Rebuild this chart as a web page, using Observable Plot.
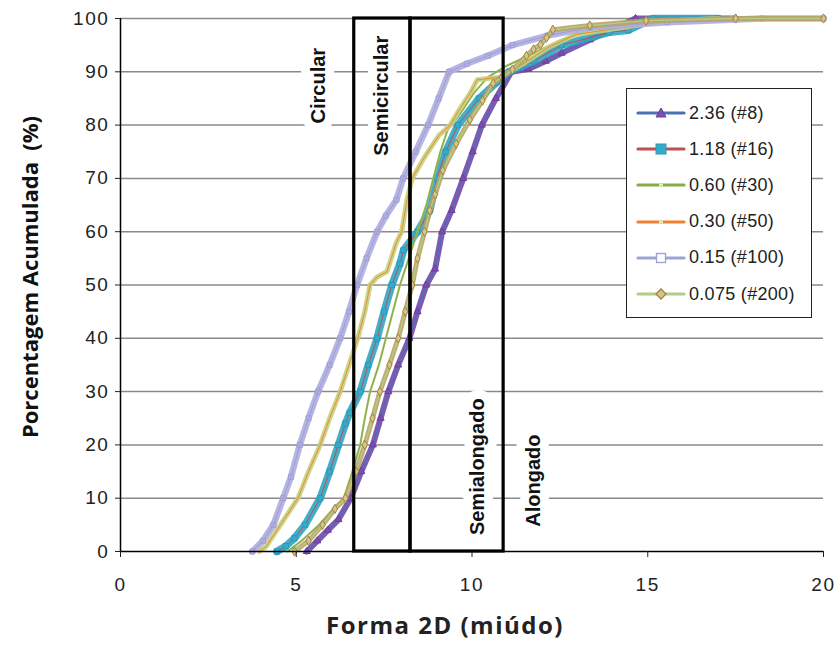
<!DOCTYPE html>
<html>
<head>
<meta charset="utf-8">
<script src="https://cdn.jsdelivr.net/npm/d3@7"></script>
<script src="https://cdn.jsdelivr.net/npm/@observablehq/plot@0.6"></script>
<style>
  html, body { margin: 0; padding: 0; background: #fff; }
  #wrap { position: relative; width: 839px; height: 649px; }
  #legend { position: absolute; left: 626px; top: 88px; width: 186px; height: 230px;
            border: 1.5px solid #222; background: #fff; box-sizing: border-box;
            font-family: "Liberation Sans", Arial, sans-serif; font-size: 18px; color: #222; }
  .row { position: absolute; left: 9px; height: 20px; display: flex; align-items: center; }
  .row span { margin-left: 3px; letter-spacing: 0.3px; }
  svg text { }
</style>
</head>
<body>
<div id="wrap"><div id="legend"></div></div>
<script>
// ---------- data ----------
const seriesNames = ["2.36 (#8)", "1.18 (#16)", "0.60 (#30)", "0.30 (#50)", "0.15 (#100)", "0.075 (#200)"];

const s236Form = [5.3,5.6,5.9,6.2,6.55,6.85,7.18,7.4,7.62,7.9,8.22,8.45,8.7,8.95,9.15,9.42,9.75,10.02,10.28,10.68,11.12,11.6,12.1,12.55,13.35,14.0,14.65,17.5];
const s236Pct  = [0,2,4,6,10,15,20,25,30,35,40,45,50,53,60,64,70,75,80,85,90,90.5,92,93.5,96,98,100,100];

const s118Form = [4.45,4.7,4.95,5.25,5.68,5.95,6.2,6.4,6.52,6.82,7.05,7.3,7.5,7.72,7.95,8.05,8.45,8.8,9.0,9.25,9.6,10.2,10.7,11.05,11.75,12.55,13.9,14.45,15.15,17.0];
const s118Pct  = [0,1,2.5,5,10,15,20,24,26,30,35,40,45,50,54,56.5,60,64,70,75,80,85,88,90,92,95,97.4,97.8,100,100];

const s060Form = [4.75,5.15,5.65,6.05,6.35,6.55,6.82,6.95,7.1,7.35,7.55,7.75,7.95,8.2,8.45,8.7,8.9,9.1,9.3,9.65,10.05,10.45,10.95,11.75,12.55,13.45,14.95,17.0];
const s060Pct  = [0,2,5,8,10,14,20,25,30,35,40,45,50,55,60,65,70,75,79,82,86,89,91,93.5,96,98,99.5,100];

const s030Form = [3.95,4.15,4.55,5.05,5.35,5.68,5.95,6.25,6.5,6.75,6.95,7.1,7.3,7.58,7.85,8.0,8.15,8.3,8.65,9.05,9.38,9.65,9.95,10.15,10.8,11.45,12.15,12.95,13.95,15.45,17.0];
const s030Pct  = [0,1,5,10,15,20,25,30,35,40,45,50,51.5,52.5,58,60,66,70,74,78,80,83,86,88.5,89,91.5,94.5,97,98,99.5,100];

const s015Form = [3.75,4.05,4.35,4.63,4.85,5.1,5.35,5.62,5.95,6.25,6.5,6.73,7.0,7.3,7.55,7.85,8.04,8.4,8.75,9.05,9.35,9.85,10.45,11.15,12.15,13.35,15.55,18.25,20.0];
const s015Pct  = [0,2,5,10,14,20,25,30,35,40,45,50,55,60,63,66,70,75,80,85,90,91.5,93,95,96.8,98.3,99.3,100,100];

const s0075Form = [4.95,5.35,5.75,6.1,6.4,6.7,6.95,7.17,7.38,7.65,7.9,8.1,8.3,8.45,8.65,8.8,8.95,9.17,9.55,9.94,10.3,10.6,10.85,11.15,11.55,11.75,11.95,12.12,12.3,13.35,14.95,17.5,20.0];
const s0075Pct  = [0,2,5,8,10,15,20,25,30,35,40,45,50,55,60,64,67,71.5,76.5,81,84.6,87.8,89,90.4,93,94.2,95.1,96.4,97.9,98.7,99.6,100,100];

const xTicks = [0, 5, 10, 15, 20];
const yTicks = [0, 10, 20, 30, 40, 50, 60, 70, 80, 90, 100];
const yGrid  = [10, 20, 30, 40, 50, 60, 70, 80, 90, 100];

// shape class boundaries (Forma 2D)
const classBounds = [6.65, 8.25, 10.9];
const classLabels = ["Circular", "Semicircular", "Semialongado", "Alongado"];
const classLabelX = [5.63, 7.42, 10.17, 11.75];
const classLabelY = [87.4, 85.5, 15.9, 13.3];

const xTitle = "Forma 2D (miúdo)";
const yTitle = "Porcentagem Acumulada  (%)";

// ---------- build tables ----------
const formArrays = [s236Form, s118Form, s060Form, s030Form, s015Form, s0075Form];
const pctArrays  = [s236Pct, s118Pct, s060Pct, s030Pct, s015Pct, s0075Pct];
const rows = [];
seriesNames.forEach((name, i) => {
  formArrays[i].forEach((f, j) => rows.push({series: name, form: f, pct: pctArrays[i][j]}));
});
const boxes = [
  {x1: classBounds[0], x2: classBounds[1]},
  {x1: classBounds[1], x2: classBounds[2]}
];
const labels = classLabels.map((t, i) => ({text: t, x: classLabelX[i], y: classLabelY[i]}));

// ---------- styles ----------
const styles = {
  "2.36 (#8)":    {band: "#7347a8", bandW: 6,   line: "#4a72b3", lineW: 1.2, sym: "triangle", mFill: "#7a4fae", mStroke: "#6a3f9e", r: 2.6},
  "1.18 (#16)":   {band: "#2ea5c4", bandW: 7.5, line: "#c0504d", lineW: 1,   sym: "square",   mFill: "#36aac8", mStroke: "#2a9ab8", r: 3},
  "0.60 (#30)":   {band: "#a6c46a", bandW: 2.2, line: "#86ad45", lineW: 1.2, sym: null},
  "0.30 (#50)":   {band: "#c4d07c", bandW: 5,   line: "#ee8030", lineW: 0.9, sym: null},
  "0.15 (#100)":  {band: "#b0acdf", bandW: 6.5, line: "#9aa6d8", lineW: 1.2, sym: "square",   mFill: "none", mStroke: "#a29dd6", r: 2.8},
  "0.075 (#200)": {band: "#b9a262", bandW: 5,   line: "#b3cc86", lineW: 1.4, sym: "diamond",  mFill: "#d8c48a", mStroke: "#9c8540", r: 2.8}
};

const seriesMarks = [];
seriesNames.forEach(name => {
  const st = styles[name];
  const d = rows.filter(r => r.series === name);
  seriesMarks.push(Plot.line(d, {x: "form", y: "pct", stroke: st.band, strokeWidth: st.bandW, strokeOpacity: 0.9}));
  seriesMarks.push(Plot.line(d, {x: "form", y: "pct", stroke: st.line, strokeWidth: st.lineW}));
  if (st.sym) {
    seriesMarks.push(Plot.dot(d, {x: "form", y: "pct", symbol: () => st.sym, r: st.r, fill: st.mFill, stroke: st.mStroke, strokeWidth: 1}));
  }
});

const chart = Plot.plot({
  width: 839,
  height: 649,
  marginLeft: 120,
  marginRight: 16,
  marginTop: 18,
  marginBottom: 98,
  x: {domain: [0, 20]},
  y: {domain: [0, 100]},
  style: {fontFamily: "'Liberation Sans', Arial, sans-serif", fontSize: "19px", color: "#222", background: "#fff", overflow: "visible"},
  marks: [
    Plot.ruleY(yGrid, {stroke: "#8a8a8a", strokeWidth: 1.5}),
    ...seriesMarks,
    Plot.text(labels, {x: "x", y: "y", text: "text", rotate: -90, fontSize: 20, fontWeight: "bold",
      fill: "#111", stroke: "white", strokeWidth: 18, textAnchor: "middle", fontFamily: "'Liberation Sans', Arial, sans-serif"}),
    Plot.rect(boxes, {x1: "x1", x2: "x2", y1: () => 0, y2: () => 100, fill: "none", stroke: "#000", strokeWidth: 3.2}),
    Plot.ruleX([0], {stroke: "#000", strokeWidth: 1.5}),
    Plot.ruleY([0], {stroke: "#000", strokeWidth: 1.5}),
    Plot.axisY({ticks: yTicks, tickSize: 5, tickPadding: 6, label: null, fontSize: 19, tickFormat: d => String(d)}),
    Plot.axisX({ticks: xTicks, tickSize: 6, tickPadding: 20, label: null, fontSize: 19, tickFormat: d => String(d)}),
    Plot.text([xTitle], {frameAnchor: "bottom", dy: 82, dx: -27, fontSize: 24, fontWeight: "bold", fill: "#222",
      fontFamily: "'Open Sans', 'Liberation Sans', sans-serif"}),
    Plot.text([yTitle], {frameAnchor: "left", textAnchor: "middle", rotate: -90, dx: -90, dy: -8, fontSize: 22, fontWeight: "bold", fill: "#111",
      fontFamily: "'Open Sans', 'Liberation Sans', sans-serif"})
  ]
});
// widen tick labels slightly like the stretched original
chart.querySelectorAll("g[aria-label='y-axis tick label'] text, g[aria-label='x-axis tick label'] text").forEach(t => t.setAttribute("letter-spacing", "1.6"));
chart.querySelectorAll("text").forEach(t => { if (t.textContent === xTitle) t.setAttribute("letter-spacing", "1.5"); });
document.getElementById("wrap").prepend(chart);

// ---------- legend ----------
const legend = document.getElementById("legend");
seriesNames.forEach((name, i) => {
  const st = styles[name];
  const row = document.createElement("div");
  row.className = "row";
  row.style.top = (14 + i * 36.2) + "px";
  let marker = "";
  const cx = 25, cy = 10;
  if (st.sym === "triangle") marker = `<path d="M${cx},${cy-5} L${cx+5},${cy+4} L${cx-5},${cy+4} Z" fill="${st.mFill}" stroke="${st.mStroke}"/>`;
  else if (st.sym === "square" && st.mFill !== "none") marker = `<rect x="${cx-5}" y="${cy-5}" width="10" height="10" fill="${st.mFill}" stroke="${st.mStroke}"/>`;
  else if (st.sym === "square") marker = `<rect x="${cx-4.5}" y="${cy-4.5}" width="9" height="9" fill="#fff" stroke="${st.mStroke}" stroke-width="1.3"/>`;
  else if (st.sym === "diamond") marker = `<path d="M${cx},${cy-5} L${cx+5},${cy} L${cx},${cy+5} L${cx-5},${cy} Z" fill="${st.mFill}" stroke="${st.mStroke}" stroke-width="1.3"/>`;
  else marker = `<rect x="${cx-2}" y="${cy-1.5}" width="4" height="3" fill="#dfe8c4"/>`;
  row.innerHTML = `<svg width="50" height="20"><line x1="2" y1="${cy}" x2="48" y2="${cy}" stroke="${st.line}" stroke-width="3.2" stroke-linecap="round"/>${marker}</svg><span>${name}</span>`;
  legend.appendChild(row);
});
</script>
</body>
</html>
